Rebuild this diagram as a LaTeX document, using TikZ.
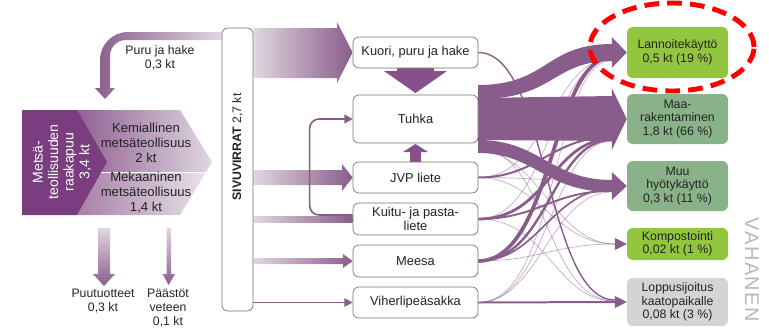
\documentclass[tikz,border=0pt]{standalone}
\usepackage{fontspec}
\setmainfont{Liberation Sans}
\usetikzlibrary{calc,positioning,arrows.meta,backgrounds}
\definecolor{flowpurple}{RGB}{137,93,139}
\definecolor{darkpurple}{RGB}{122,61,126}
\definecolor{midpurple}{RGB}{145,96,147}
\definecolor{palepurple}{RGB}{224,215,224}
\definecolor{lightgreen}{RGB}{146,198,62}
\definecolor{greygreen}{RGB}{138,178,136}
\definecolor{lightgrey}{RGB}{212,212,212}
\definecolor{boxline}{RGB}{115,115,115}
\definecolor{textgrey}{RGB}{35,35,35}
\tikzstyle{sivubox}  = [draw=boxline, line width=0.6pt, rounded corners=5pt, fill=white, minimum width=0.93cm, minimum height=8.49cm]
\tikzstyle{midbox}   = [draw=boxline, line width=0.6pt, rounded corners=5pt, fill=white, minimum width=3.75cm, minimum height=0.93cm, align=center, inner sep=1pt, text=textgrey, font=\fontsize{11}{11.5}\selectfont]
\tikzstyle{endbox}   = [rounded corners=5pt, minimum width=3.03cm, minimum height=1.5cm, align=center, inner sep=1pt, text=textgrey, font=\fontsize{10.5}{11.5}\selectfont]
\tikzstyle{lbl}      = [align=center, inner sep=0pt, text=textgrey, font=\fontsize{10.5}{12}\selectfont]
\tikzstyle{biglbl}   = [align=center, inner sep=0pt, text=textgrey, font=\fontsize{11.2}{12.8}\selectfont]
\tikzstyle{flow}     = [draw=flowpurple, line cap=butt]
\tikzstyle{faint}    = [flow, line width=0.6pt, draw opacity=0.5]
\tikzstyle{ring}     = [draw=red, line width=4.2pt, dash pattern=on 12.5pt off 7pt]

\begin{document}
\begin{tikzpicture}[x=0.03cm, y=-0.03cm]
	\useasboundingbox (0,0) rectangle (769,334);

	\node[sivubox] (sivu) at (237.5,169.5) {};
	\node[rotate=90, text=textgrey, font=\fontsize{10.5}{12}\selectfont] (sivulabel) at (237.5,147) {\textbf{SIVUVIRRAT} 2,7 kt};

	\node[midbox] (kuori) at (415.5,52.5) {Kuori, puru ja hake};
	\node[midbox, minimum height=1.44cm] (tuhka) at (415.5,119) {Tuhka};
	\node[midbox] (jvp) at (415.5,177.5) {JVP liete};
	\node[midbox, minimum height=0.96cm] (kuitu) at (415.5,219) {Kuitu- ja pasta-\\liete};
	\node[midbox, minimum height=0.96cm] (meesa) at (415.5,261) {Meesa};
	\node[midbox] (viher) at (415.5,302.5) {Viherlipeäsakka};

	\node[endbox, fill=lightgreen, minimum height=1.53cm] (lannoite) at (677.5,52.5) {Lannoitekäyttö\\0,5 kt (19 \%)};
	\node[endbox, fill=greygreen] (maara) at (677.5,119) {Maa-\\rakentaminen\\1,8 kt (66 \%)};
	\node[endbox, fill=greygreen] (muu) at (677.5,186) {Muu\\hyötykäyttö\\0,3 kt (11 \%)};
	\node[endbox, fill=lightgreen, minimum height=0.96cm] (kompost) at (677.5,244) {Kompostointi\\0,02 kt (1 \%)};
	\node[endbox, fill=lightgrey, minimum height=1.44cm] (lopp) at (677.5,302) {Loppusijoitus\\kaatopaikalle\\0,08 kt (3 \%)};

	\coordinate (lanhead) at ($(lannoite.west)+(-15,0)$);
	\coordinate (maahead) at ($(maara.west)+(-15,0)$);
	\coordinate (muuhead) at ($(muu.west)+(-15,0)$);
	\coordinate (komhead) at ($(kompost.west)+(-12,0)$);
	\coordinate (lophead) at ($(lopp.west)+(-12,0)$);

	\begin{scope}[on background layer]
		\shade[left color=midpurple, right color=palepurple] (77,110) -- (180,110) -- (212,162) -- (206,172) -- (77,172) -- cycle;
		\shade[left color=midpurple!80, right color=palepurple!75] (77,172) -- (206,172) -- (180,215) -- (77,215) -- cycle;
		\draw[white, line width=1pt] (92,172.5) -- (206,172.5);
		\fill[darkpurple] (22,110) -- (77,110) -- (107,162) -- (77,215) -- (22,215) -- cycle;

		\shade[left color=flowpurple, right color=palepurple] (sivu.west |- 0,32) -- (128,32) .. controls (112.5,32) and (100,44.5) .. (100,60) -- (100,88) -- (95,88) -- (105,99) -- (115,88) -- (110,88) -- (110,56) .. controls (110,47) and (117,40) .. (126,40) -- (sivu.west |- 0,40) -- cycle;
		\shade[top color=palepurple, bottom color=flowpurple] (98,228) -- (110,228) -- (110,274) -- (115,274) -- (104,286) -- (93,274) -- (98,274) -- cycle;
		\shade[top color=palepurple, bottom color=flowpurple] (166.5,228) -- (171,228) -- (171,274) -- (175,274) -- (168.7,285) -- (162.5,274) -- (166.5,274) -- cycle;

		\shade[left color=palepurple, right color=flowpurple] (sivu.east |- 0,28) -- (337,28) -- (337,22) -- (kuori.west) -- (337,83) -- (337,78) -- (sivu.east |- 0,78) -- cycle;
		\shade[left color=palepurple, right color=flowpurple] (sivu.east |- 0,170) -- (342,170) -- (342,164) -- (jvp.west) -- (342,191) -- (342,185) -- (sivu.east |- 0,185) -- cycle;
		\shade[left color=palepurple, right color=flowpurple] (sivu.east |- 0,216.5) rectangle (kuitu.west |- 0,222);
		\shade[left color=palepurple, right color=flowpurple] (sivu.east |- 0,258) -- (343,258) -- (343,254) -- (meesa.west) -- (343,268) -- (343,264) -- (sivu.east |- 0,264) -- cycle;
		\draw[flowpurple, line width=1.5pt, -{Triangle[length=7pt,width=7pt]}] (sivu.east |- viher) -- (viher.west);
		\draw[flowpurple, line width=1.4pt, rounded corners=8pt, -{Triangle[length=7pt,width=7.5pt]}] ($(kuitu.west)+(0,-4)$) -| ($(tuhka.west)+(-43,0)$) -- (tuhka.west);

		\fill[darkpurple!90] (397,68) -- (434,68) -- (434,71) -- (447,71) -- (415.5,93) -- (384,71) -- (397,71) -- cycle;
		\fill[darkpurple!90] (410,162) -- (421,162) -- (421,152) -- (428,152) -- (415.5,144) -- (403,152) -- (410,152) -- cycle;

		\fill[flowpurple] (478,85) .. controls (548,85) and (545,44) .. (612,44) -- (612,61) .. controls (552,61) and (555,99) .. (478,99) -- cycle;
		\fill[flowpurple] (478,98) -- (612,96) -- (612,141) -- (478,140) -- cycle;
		\fill[flowpurple] (478,140) .. controls (540,140) and (550,180) .. (612,180) -- (612,192) .. controls (545,192) and (535,153) .. (478,153) -- cycle;

		\draw[flow, line width=1.2pt] (kuori.east) .. controls +(70,0) and +(-70,0) .. ($(lophead)+(0,-2)$);
		\draw[faint] ($(tuhka.east)+(0,30)$) .. controls +(70,0) and +(-70,0) .. ($(lophead)+(0,-1)$);
		\draw[faint] ($(tuhka.east)+(0,32)$) .. controls +(60,0) and +(-60,0) .. (komhead);
		\draw[flow, line width=1.7pt] (jvp.east) .. controls +(60,0) and +(-60,0) .. ($(maahead)+(0,18)$);
		\draw[faint] (jvp.east) .. controls +(70,0) and +(-60,0) .. ($(lanhead)+(0,6)$);
		\draw[faint] (jvp.east) .. controls +(60,0) and +(-60,0) .. (komhead);
		\draw[faint] (jvp.east) .. controls +(60,0) and +(-50,0) .. ($(muuhead)+(0,-4)$);
		\draw[flow, line width=2.4pt] (kuitu.east) .. controls +(70,0) and +(-60,0) .. ($(maahead)+(0,20)$);
		\draw[flow, line width=1.6pt] (kuitu.east) .. controls +(60,0) and +(-60,0) .. ($(muuhead)+(0,5)$);
		\draw[faint] (kuitu.east) .. controls +(70,0) and +(-60,0) .. ($(lanhead)+(0,7)$);
		\draw[faint] (kuitu.east) .. controls +(70,0) and +(-60,0) .. ($(lophead)+(0,-1)$);
		\draw[flow, line width=3.2pt] (meesa.east) .. controls +(75,0) and +(-60,0) .. ($(lanhead)+(0,5)$);
		\draw[flow, line width=2pt] (meesa.east) .. controls +(70,0) and +(-60,0) .. ($(maahead)+(0,21)$);
		\draw[flow, line width=1.4pt] (meesa.east) .. controls +(60,0) and +(-60,0) .. ($(muuhead)+(0,3)$);
		\draw[faint] (meesa.east) .. controls +(60,0) and +(-60,0) .. (komhead);
		\draw[flow, line width=1.7pt] (viher.east) -- (lophead);
		\draw[faint] (viher.east) .. controls +(80,0) and +(-60,0) .. ($(lanhead)+(0,8)$);
		\draw[faint] (viher.east) .. controls +(70,0) and +(-60,0) .. ($(maahead)+(0,22)$);
		\draw[faint] (viher.east) .. controls +(60,0) and +(-60,0) .. ($(muuhead)+(0,6)$);

		\fill[flowpurple] ($(lanhead)+(0,-15.5)$) -- (lannoite.west) -- ($(lanhead)+(0,15.5)$) -- cycle;
		\fill[flowpurple] ($(maahead)+(0,-31)$) -- (maara.west) -- ($(maahead)+(0,31)$) -- cycle;
		\fill[flowpurple] ($(muuhead)+(0,-14)$) -- (muu.west) -- ($(muuhead)+(0,14)$) -- cycle;
		\fill[flowpurple] ($(komhead)+(0,-6)$) -- (kompost.west) -- ($(komhead)+(0,6)$) -- cycle;
		\fill[flowpurple] ($(lophead)+(0,-6)$) -- (lopp.west) -- ($(lophead)+(0,6)$) -- cycle;
	\end{scope}

	\node[rotate=90, align=center, inner sep=0pt, text=white, font=\fontsize{12}{13.3}\selectfont] (raakapuu) at (62,162) {Metsä-\\teollisuuden\\raakapuu\\3,4 kt};
	\node[biglbl] (kemia) at (146,143) {Kemiallinen\\metsäteollisuus\\2 kt};
	\node[biglbl] (mekaa) at (146,193) {Mekaaninen\\metsäteollisuus\\1,4 kt};
	\node[lbl] (puru) at (160,58) {Puru ja hake\\0,3 kt};
	\node[lbl, anchor=north] (puutuote) at (103,289) {Puutuotteet\\0,3 kt};
	\node[lbl, anchor=north] (paastot) at (168,289) {Päästöt\\veteen\\0,1 kt};

	\draw[ring] (672,47) ellipse [x radius=2.46cm, y radius=1.32cm];

	\node[rotate=-90, inner sep=0pt, text=black!28, font=\fontsize{17}{17}\selectfont\addfontfeature{LetterSpace=8}] (logo) at (752,270) {VAHANEN};
\end{tikzpicture}
\end{document}
